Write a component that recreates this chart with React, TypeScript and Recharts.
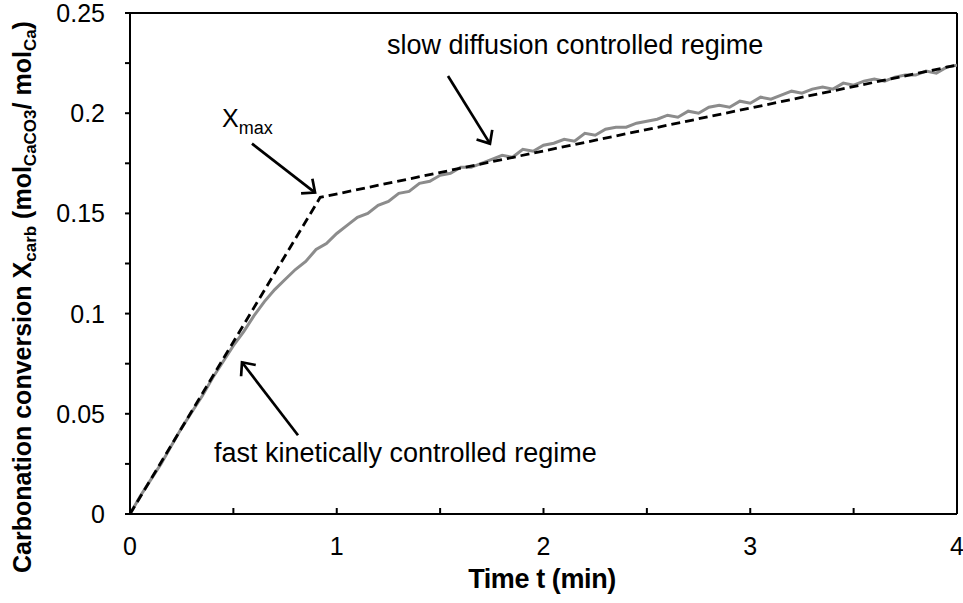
import React from 'react';
import { LineChart, Line, XAxis, YAxis, ReferenceLine } from 'recharts';

const timeMin = [
  0, 0.05, 0.1, 0.15, 0.2, 0.25, 0.3, 0.35, 0.4, 0.45, 0.5, 0.55, 0.6, 0.65, 0.7, 0.75, 0.8, 0.85, 0.9, 0.95,
  1.0, 1.05, 1.1, 1.15, 1.2, 1.25, 1.3, 1.35, 1.4, 1.45, 1.5, 1.55, 1.6, 1.65, 1.7, 1.75, 1.8, 1.85, 1.9, 1.95,
  2.0, 2.05, 2.1, 2.15, 2.2, 2.25, 2.3, 2.35, 2.4, 2.45, 2.5, 2.55, 2.6, 2.65, 2.7, 2.75, 2.8, 2.85, 2.9, 2.95,
  3.0, 3.05, 3.1, 3.15, 3.2, 3.25, 3.3, 3.35, 3.4, 3.45, 3.5, 3.55, 3.6, 3.65, 3.7, 3.75, 3.8, 3.85, 3.9, 3.95, 4.0,
];
const conversion = [
  0, 0.009, 0.017, 0.025, 0.034, 0.043, 0.051, 0.059, 0.068, 0.076, 0.084, 0.091, 0.099, 0.106, 0.112, 0.117, 0.122, 0.126, 0.132, 0.135,
  0.140, 0.144, 0.148, 0.150, 0.154, 0.156, 0.160, 0.161, 0.165, 0.166, 0.169, 0.170, 0.173, 0.173, 0.175, 0.177, 0.179, 0.178, 0.182, 0.181,
  0.184, 0.185, 0.187, 0.186, 0.190, 0.189, 0.192, 0.193, 0.193, 0.195, 0.196, 0.197, 0.199, 0.198, 0.201, 0.200, 0.203, 0.204, 0.203, 0.206,
  0.205, 0.208, 0.207, 0.209, 0.211, 0.210, 0.212, 0.213, 0.212, 0.215, 0.214, 0.216, 0.217, 0.216, 0.218, 0.219, 0.219, 0.221, 0.220, 0.223, 0.224,
];
const fitTime = [0, 0.92, 4];
const fitConversion = [0, 0.158, 0.224];

const xTicks = [0, 0.5, 1, 1.5, 2, 2.5, 3, 3.5, 4];
const yTicks = [0, 0.025, 0.05, 0.075, 0.1, 0.125, 0.15, 0.175, 0.2, 0.225, 0.25];
const yTickLabels = ['0', '', '0.05', '', '0.1', '', '0.15', '', '0.2', '', '0.25'];

// arrows: [tStart, xStart, tEnd, xEnd]
const arrowXmax = [0.59, 0.1848, 0.895, 0.1604];
const arrowSlow = [1.538, 0.2186, 1.741, 0.1848];
const arrowFast = [0.8126, 0.0393, 0.5417, 0.0757];

const measured = timeMin.map((t, i) => ({ t, v: conversion[i] }));
const fitted = fitTime.map((t, i) => ({ t, v: fitConversion[i] }));

const FONT = 'Arial, "Liberation Sans", sans-serif';

const XTick = (props: any) => {
  const { x, y, payload } = props;
  const v = payload.value;
  const isInt = Math.abs(v - Math.round(v)) < 1e-9;
  return (
    <g>
      <line x1={x} x2={x} y1={y} y2={y - 6} stroke="#000" strokeWidth={2} />
      {isInt && (
        <text x={x} y={y + 41} textAnchor="middle" fontSize={25} fontFamily={FONT} fill="#000">
          {String(v)}
        </text>
      )}
    </g>
  );
};

const YTick = (props: any) => {
  const { x, y, index } = props;
  const label = yTickLabels[index] ?? '';
  return (
    <g>
      <line x1={x - 5} x2={x} y1={y} y2={y} stroke="#000" strokeWidth={2} />
      {label && (
        <text x={x - 25} y={y + 9} textAnchor="end" fontSize={25} fontFamily={FONT} fill="#000">
          {label}
        </text>
      )}
    </g>
  );
};

const ArrowShape = (props: any) => {
  const { x1, y1, x2, y2 } = props;
  if ([x1, y1, x2, y2].some((n) => typeof n !== 'number' || isNaN(n))) return null;
  const ang = Math.atan2(y2 - y1, x2 - x1);
  const len = 14;
  const spread = 0.72;
  const ax = x2 - len * Math.cos(ang - spread);
  const ay = y2 - len * Math.sin(ang - spread);
  const bx = x2 - len * Math.cos(ang + spread);
  const by = y2 - len * Math.sin(ang + spread);
  return (
    <g>
      <line x1={x1} y1={y1} x2={x2} y2={y2} stroke="#000" strokeWidth={2.7} />
      <polyline
        points={`${ax},${ay} ${x2},${y2} ${bx},${by}`}
        fill="none"
        stroke="#000"
        strokeWidth={2.7}
        strokeLinejoin="miter"
      />
    </g>
  );
};

const arrowSegment = (a: number[]) => [
  { x: a[0], y: a[1] },
  { x: a[2], y: a[3] },
];

export default function App() {
  return (
    <div style={{ position: 'absolute', left: 0, top: 0, width: 963, height: 603, background: '#fff' }}>
      <LineChart width={963} height={603} margin={{ top: 13, right: 6, bottom: 0, left: 0 }}>
        <XAxis
          type="number"
          dataKey="t"
          domain={[0, 4]}
          ticks={xTicks}
          interval={0}
          tickSize={0}
          tickMargin={0}
          tickLine={false}
          tick={<XTick />}
          height={89}
          axisLine={{ stroke: '#000', strokeWidth: 2 }}
          allowDataOverflow
        />
        <YAxis
          type="number"
          domain={[0, 0.25]}
          ticks={yTicks}
          interval={0}
          tickSize={0}
          tickMargin={0}
          tickLine={false}
          tick={<YTick />}
          width={130}
          axisLine={{ stroke: '#000', strokeWidth: 2 }}
          allowDataOverflow
        />
        <ReferenceLine y={0.25} stroke="#000" strokeWidth={2} />
        <ReferenceLine x={4} stroke="#000" strokeWidth={2} />
        <Line
          data={measured}
          dataKey="v"
          type="linear"
          stroke="#8c8c8c"
          strokeWidth={3}
          dot={false}
          isAnimationActive={false}
        />
        <Line
          data={fitted}
          dataKey="v"
          type="linear"
          stroke="#000"
          strokeWidth={2.8}
          strokeDasharray="9 5"
          dot={false}
          isAnimationActive={false}
        />
        <ReferenceLine segment={arrowSegment(arrowXmax)} shape={<ArrowShape />} ifOverflow="visible" />
        <ReferenceLine segment={arrowSegment(arrowSlow)} shape={<ArrowShape />} ifOverflow="visible" />
        <ReferenceLine segment={arrowSegment(arrowFast)} shape={<ArrowShape />} ifOverflow="visible" />
      </LineChart>
      <svg width={963} height={603} style={{ position: 'absolute', left: 0, top: 0, pointerEvents: 'none' }}>
        <text
          transform="rotate(-90)"
          x={-297}
          y={31}
          textAnchor="middle"
          fontSize={25}
          fontWeight="bold"
          fontFamily={FONT}
          fill="#000"
        >
          Carbonation conversion X
          <tspan fontSize={17} dy={5}>carb</tspan>
          <tspan dy={-5}> (mol</tspan>
          <tspan fontSize={17} dy={5}>CaCO3</tspan>
          <tspan dy={-5}>/ mol</tspan>
          <tspan fontSize={17} dy={5}>Ca</tspan>
          <tspan dy={-5}>)</tspan>
        </text>
        <text x={542} y={588} textAnchor="middle" fontSize={27} fontWeight="bold" fontFamily={FONT} fill="#000" letterSpacing={-0.4}>
          Time t (min)
        </text>
        <text x={222} y={127} fontSize={25} fontFamily={FONT} fill="#000">
          X<tspan fontSize={18} dy={7}>max</tspan>
        </text>
        <text x={387} y={54} fontSize={27} fontFamily={FONT} fill="#000">
          slow diffusion controlled regime
        </text>
        <text x={214} y={462} fontSize={27} fontFamily={FONT} fill="#000">
          fast kinetically controlled regime
        </text>
      </svg>
    </div>
  );
}
